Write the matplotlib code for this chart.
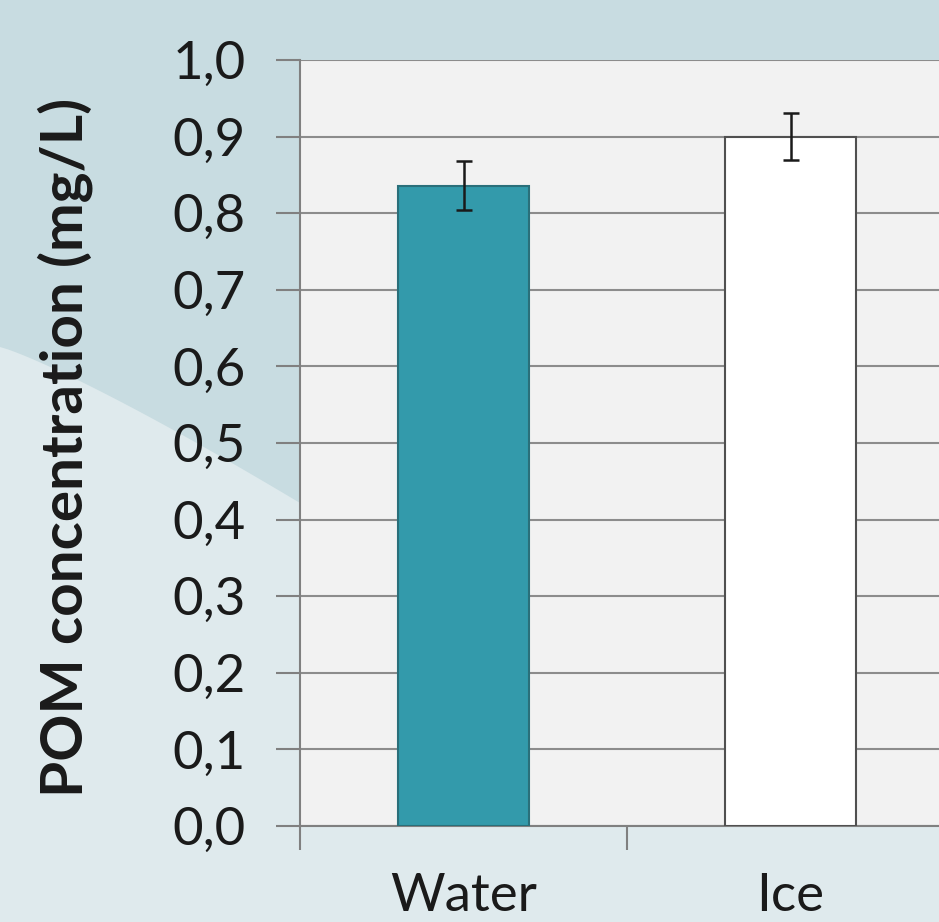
import numpy as np
import matplotlib.pyplot as plt
from matplotlib.patches import Polygon

# data
categories = ['Water', 'Ice']
pom_mean = [0.836, 0.900]
pom_err = [0.032, 0.031]
bar_colors = ['#339aab', '#ffffff']
yticks = np.arange(0, 1.01, 0.1)
ytick_labels = [('%.1f' % v).replace('.', ',') for v in yticks]

W, H = 939, 922
fig = plt.figure(figsize=(W / 100, H / 100), dpi=100)
fig.patch.set_facecolor('#dfeaed')

# background shapes, in figure pixels
bg = fig.add_axes([0, 0, 1, 1], zorder=-10)
bg.set_xlim(0, W)
bg.set_ylim(H, 0)
bg.axis('off')
t = np.linspace(0, 1, 40)
edge = list(zip(300 * t[::-1], 347 + 156 * t[::-1] ** 1.15))
upper = [(0, 0), (W, 0), (W, 70), (300, 70)] + edge
bg.add_patch(Polygon(upper, closed=True, facecolor='#c8dce1', edgecolor='none'))

ax = fig.add_axes([300 / W, (H - 826) / H, 654 / W, 766 / H])
ax.set_facecolor('#f2f2f2')
x = np.arange(len(categories))
ax.bar(x, pom_mean, width=0.4, color=bar_colors, edgecolor=['#2a6f7a', '#505050'],
       linewidth=1.5, zorder=3)
ax.errorbar(x, pom_mean, yerr=pom_err, fmt='none', ecolor='#1a1a1a',
            elinewidth=1.8, capsize=5.5, capthick=1.8, zorder=4)

ax.set_xlim(-0.5, 1.5)
ax.set_ylim(0, 1.0)
ax.set_yticks(yticks)
ax.set_yticklabels(ytick_labels)
ax.yaxis.grid(True, color='#8c8c8c', linewidth=1.5, zorder=0)
ax.set_axisbelow(True)

ax.set_xticks([-0.5, 0.5, 1.5])
ax.set_xticklabels([])
ax.set_xticks(x, minor=True)
ax.set_xticklabels(categories, minor=True)
ax.tick_params(axis='x', which='minor', length=0, pad=34)
ax.tick_params(axis='x', which='major', length=17, width=1.5, color='#808080')
ax.tick_params(axis='y', length=17, width=1.5, color='#808080', pad=22)

for lab in ax.get_yticklabels() + ax.get_xticklabels(minor=True):
    lab.set_fontfamily('Lato')
    lab.set_fontsize(38)
    lab.set_color('#1a1a1a')

for s in ['top', 'right']:
    ax.spines[s].set_visible(False)
for s in ['left', 'bottom']:
    ax.spines[s].set_color('#808080')
    ax.spines[s].set_linewidth(1.5)

ax.set_ylabel('POM concentration (mg/L)', fontfamily='Lato', fontweight='bold',
              fontsize=42, color='#1a1a1a')
ax.yaxis.set_label_coords(-0.3165, 0.494)

fig.savefig('out.png', dpi=100, facecolor=fig.get_facecolor())
